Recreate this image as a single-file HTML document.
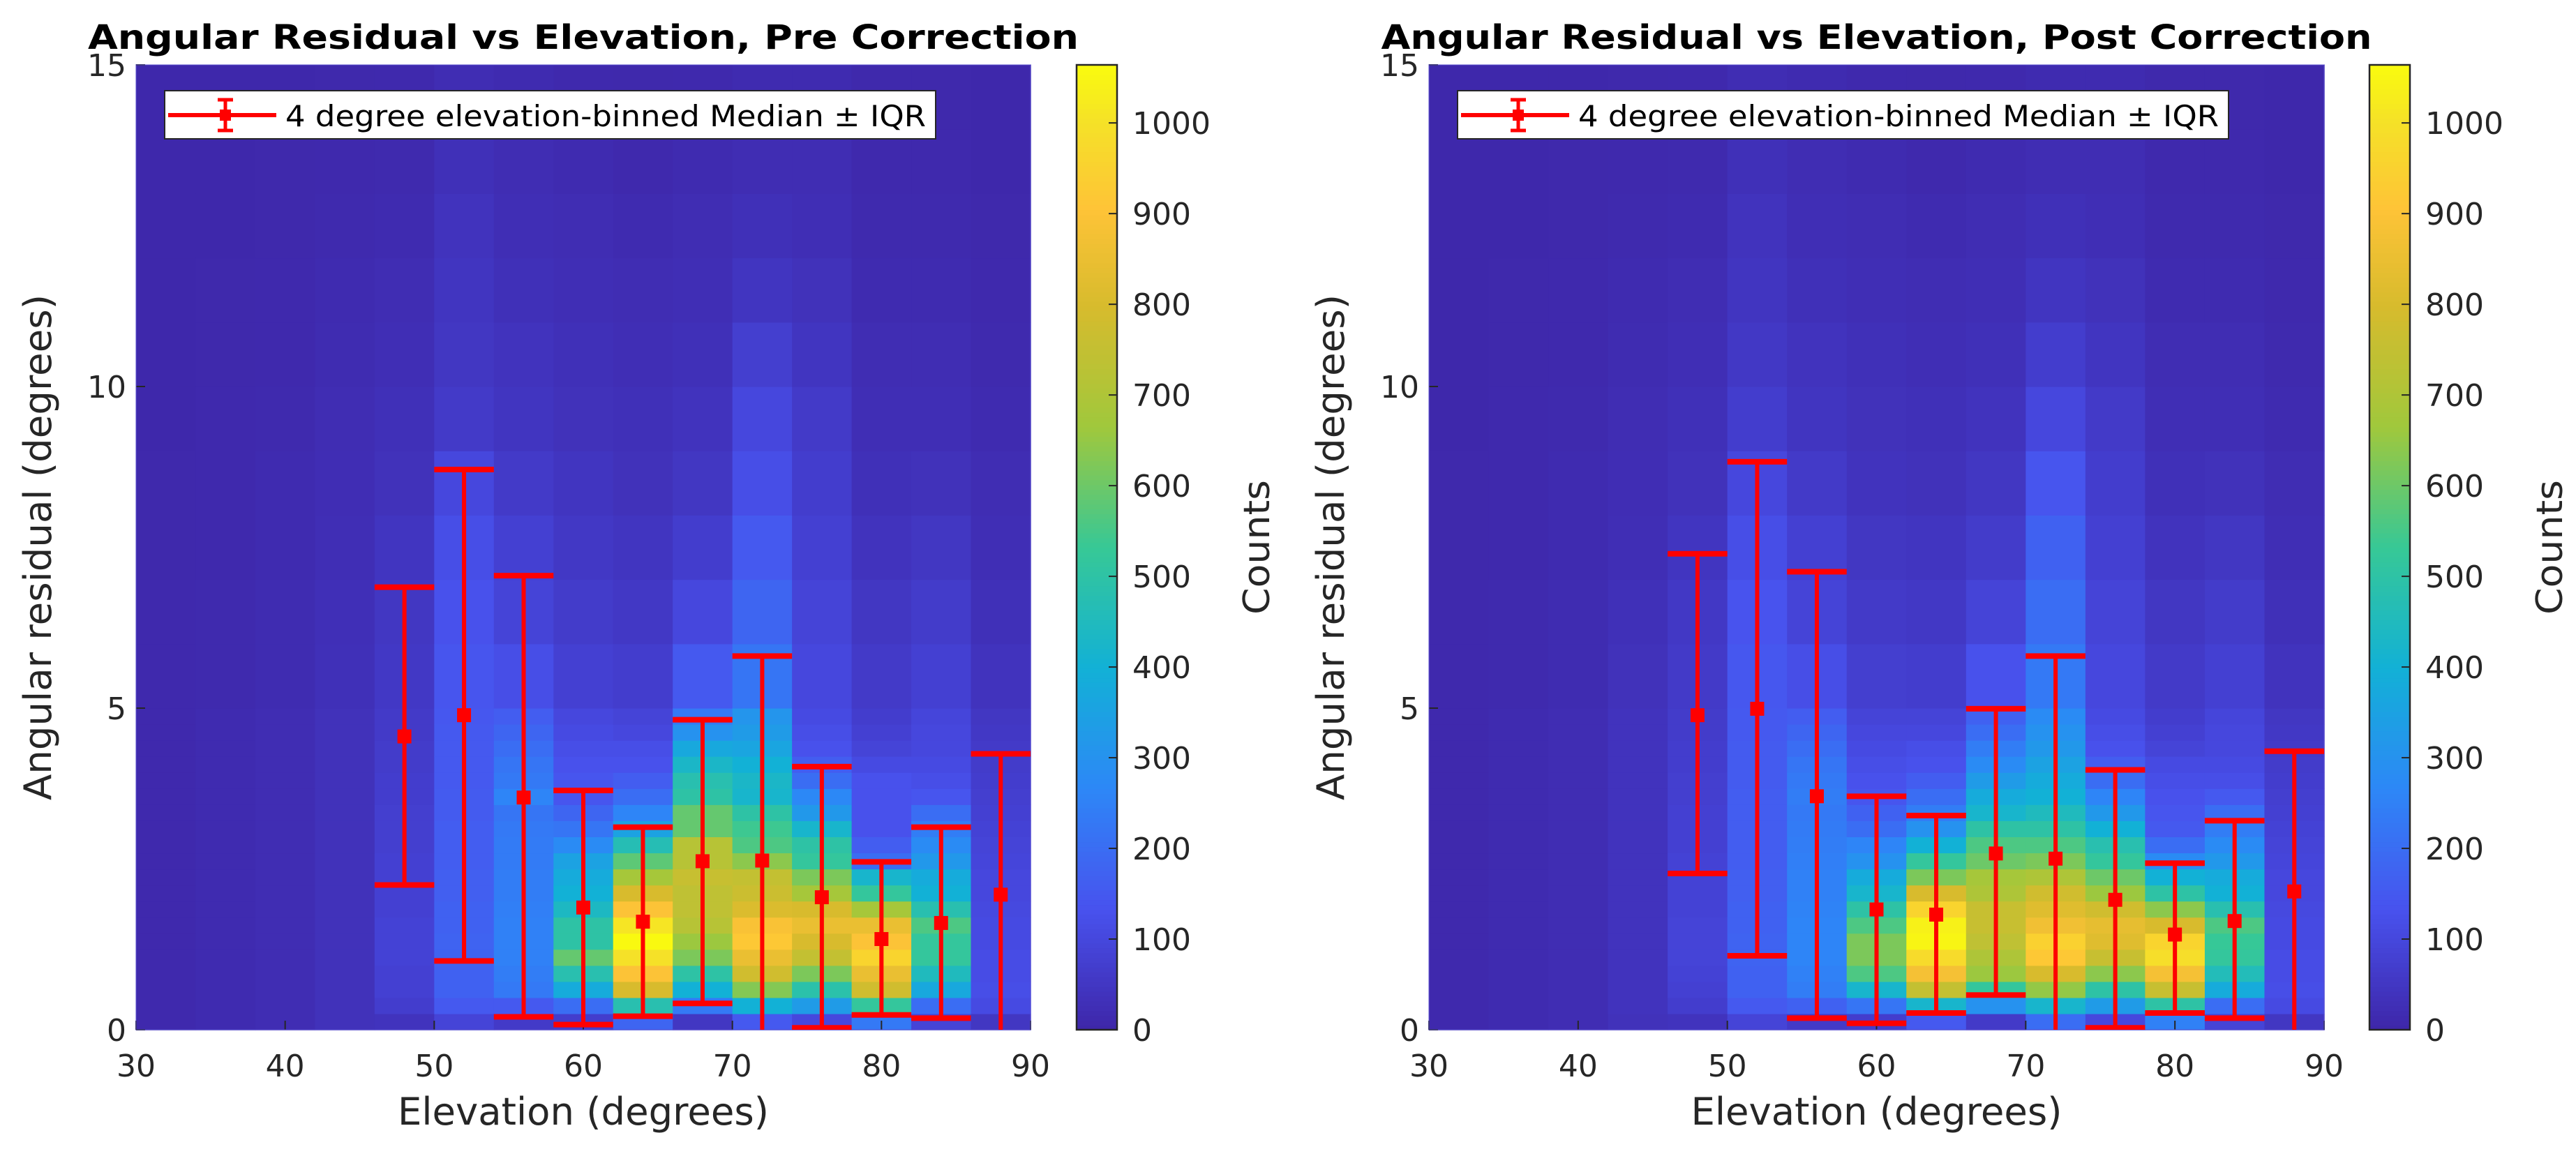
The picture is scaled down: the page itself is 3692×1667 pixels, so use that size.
<!DOCTYPE html>
<html><head><meta charset="utf-8"><style>
html,body{margin:0;padding:0;background:#fff;}
svg{display:block;font-family:"DejaVu Sans","Liberation Sans",sans-serif;}
</style></head><body>
<svg id="fig" width="3692" height="1667" viewBox="0 0 3692 1667" xmlns="http://www.w3.org/2000/svg"></svg>
<script>
// ---- data ----
const xEdges = [30,34,38,42,46,50,54,58,62,66,70,74,78,82,86,90];
const yEdges = [0,0.25,0.5,0.75,1,1.25,1.5,1.75,2,2.25,2.5,2.75,3,3.25,3.5,3.75,4,4.25,4.5,4.75,5,6,7,8,9,10,11,12,13,14,15];
const preCounts = [
[10,10,10,10,10,10,10,10,10,10,10,10,10,10,10,10,10,10,10,10,10,10,8,8,6,5,5,5,5,5],
[15,15,15,15,15,15,15,15,15,15,15,15,15,15,15,15,15,15,15,15,12,12,10,10,10,8,8,6,6,5],
[20,20,20,20,20,20,20,20,20,20,20,20,20,20,20,20,20,20,20,20,18,18,15,15,12,10,10,8,8,6],
[35,35,35,35,35,35,35,35,35,35,35,35,35,35,35,35,35,35,35,35,30,28,25,22,20,18,15,12,10,8],
[40,70,80,80,85,85,85,80,80,80,80,75,75,75,70,70,65,65,60,60,55,50,45,35,30,25,20,15,12,10],
[90,150,170,170,175,175,170,170,165,165,160,160,160,155,155,150,150,150,150,145,140,130,120,100,60,50,45,40,30,20],
[60,150,230,240,250,250,250,245,240,240,235,235,230,220,260,230,220,200,180,160,120,90,80,60,45,40,30,25,20,15],
[70,200,380,480,590,500,500,440,400,380,350,280,220,180,140,140,130,120,110,100,80,65,55,45,35,30,25,20,15,10],
[180,480,800,900,1000,1060,1010,900,800,680,580,470,350,260,200,160,130,120,100,90,70,55,45,35,30,25,20,15,10,8],
[50,230,400,500,620,660,720,740,740,760,720,720,590,590,500,480,430,370,300,230,150,100,70,50,40,30,25,20,15,10],
[150,400,630,780,850,920,890,810,770,750,640,560,540,500,420,430,400,360,330,310,220,180,150,120,100,75,45,30,20,15],
[100,330,490,620,750,800,850,800,680,620,520,500,420,320,270,200,160,130,120,110,100,90,80,70,60,45,35,25,20,15],
[230,520,780,850,960,900,850,680,520,420,200,160,130,130,130,130,110,90,80,70,60,50,40,30,25,20,15,12,10,8],
[90,200,370,450,520,520,560,480,400,380,320,280,240,200,140,120,110,100,100,95,80,65,50,35,25,20,15,12,10,8],
[50,110,120,115,115,110,110,105,100,100,95,90,85,80,75,70,65,60,55,50,40,30,25,20,15,12,10,8,6,5]
];
const postCounts = [
[10,10,10,10,10,10,10,10,10,10,10,10,10,10,10,10,10,10,10,10,10,10,8,8,6,5,5,5,5,5],
[15,15,15,15,15,15,15,15,15,15,15,15,15,15,15,15,15,15,15,15,12,12,10,10,10,8,8,6,6,5],
[20,20,20,20,20,20,20,20,20,20,20,20,20,20,20,20,20,20,20,20,18,18,15,15,12,10,10,8,8,6],
[35,40,40,40,40,40,40,40,40,40,40,40,40,40,40,40,40,40,40,40,35,30,25,22,20,18,15,12,10,8],
[40,70,80,85,90,90,90,85,85,85,85,80,80,80,75,75,70,70,65,65,60,55,45,35,30,25,20,15,12,10],
[90,150,170,170,175,175,170,170,165,165,160,160,160,160,160,155,155,155,150,150,145,135,120,100,70,55,45,40,30,20],
[60,170,240,250,260,260,260,255,250,250,245,240,235,230,240,230,220,200,180,160,120,90,80,60,45,40,30,25,20,15],
[70,220,420,560,620,620,560,500,420,380,300,260,200,170,140,130,120,110,100,90,75,60,50,40,35,30,25,20,15,10],
[150,420,750,880,980,1050,1040,960,800,620,520,400,300,240,200,160,130,120,100,90,70,55,45,35,30,25,20,15,10,8],
[60,300,520,660,700,740,760,760,700,680,600,560,500,420,380,330,280,240,200,170,130,90,65,50,40,30,25,20,15,10],
[200,420,650,800,920,950,870,820,780,700,620,560,500,450,400,380,350,320,300,280,230,200,170,140,100,70,45,30,20,15],
[100,330,500,640,760,820,840,780,660,600,520,480,400,320,260,200,160,130,120,110,100,90,80,70,60,45,35,25,20,15],
[250,500,760,880,990,960,800,640,500,400,280,200,150,140,130,120,110,90,80,70,60,50,40,30,25,20,15,12,10,8],
[90,200,380,460,520,530,560,480,400,380,320,280,240,200,150,120,110,100,100,95,80,65,50,35,25,20,15,12,10,8],
[50,110,120,115,115,110,110,105,100,100,95,90,85,80,75,70,65,60,55,50,40,30,25,20,15,12,10,8,6,5]
];
const binCenters = [48,52,56,60,64,68,72,76,80,84,88];
const preMedian = [4.56,4.89,3.61,1.90,1.68,2.62,2.63,2.06,1.41,1.66,2.10];
const preUpper  = [6.88,8.71,7.06,3.72,3.15,4.82,5.81,4.09,2.61,3.15,4.29];
const preLower  = [2.25,1.07,0.20,0.08,0.21,0.41,-0.05,0.03,0.23,0.18,-0.05];
const postMedian = [4.89,4.99,3.63,1.87,1.79,2.74,2.66,2.02,1.48,1.69,2.15];
const postUpper  = [7.40,8.83,7.12,3.63,3.33,4.99,5.81,4.04,2.59,3.25,4.33];
const postLower  = [2.43,1.15,0.18,0.10,0.26,0.54,-0.05,0.03,0.26,0.18,-0.05];
const xTicks = [30,40,50,60,70,80,90];
const yTicks = [0,5,10,15];
const cTicks = [0,100,200,300,400,500,600,700,800,900,1000];
const cMax = 1064;

// ---- helpers ----
const NS = "http://www.w3.org/2000/svg";
const svg = document.getElementById('fig');
function mk(tag, attrs, parent){const e=document.createElementNS(NS,tag);for(const k in attrs)e.setAttribute(k,attrs[k]);(parent||svg).appendChild(e);return e;}
const P=[[0,62,38,168],[0.125,72,82,238],[0.25,45,135,247],[0.375,18,177,214],[0.5,55,200,150],[0.625,160,200,60],[0.75,215,187,45],[0.85,254,195,55],[0.94,245,225,40],[1,249,251,14]];
function parula(v){let t=Math.max(0,Math.min(1,v/cMax));for(let i=1;i<P.length;i++){if(t<=P[i][0]){const a=P[i-1],b=P[i],f=(t-a[0])/(b[0]-a[0]);return `rgb(${Math.round(a[1]+f*(b[1]-a[1]))},${Math.round(a[2]+f*(b[2]-a[2]))},${Math.round(a[3]+f*(b[3]-a[3]))})`;}}return 'rgb(249,251,14)';}

function panel(o){
  const L=o.left,R=o.right,T=93,B=1476;
  const sx=v=>L+(v-30)/60*(R-L), sy=v=>B-v/15*(B-T);
  const g=mk('g',{});
  
  
  const cp=mk('clipPath',{id:'clip-'+o.name},g);
  mk('rect',{x:L,y:T,width:R-L,height:B-T},cp);
  const hm=mk('g',{},g);
  
  
  o.counts.forEach((col,i)=>{col.forEach((c,j)=>{
    const r=mk('rect',{x:sx(xEdges[i]),y:sy(yEdges[j+1]),width:sx(xEdges[i+1])-sx(xEdges[i])+0.6,height:sy(yEdges[j])-sy(yEdges[j+1])+0.6,fill:parula(c)},hm);
    
    
  });});
  xTicks.forEach(t=>{
    mk('line',{x1:sx(t),x2:sx(t),y1:B,y2:B-13,stroke:'#262626','stroke-width':2},g);
    const tx=mk('text',{x:sx(t),y:1543,'font-size':44,'text-anchor':'middle',fill:'#262626'},g);tx.textContent=t;
    
    
  });
  yTicks.forEach(t=>{
    mk('line',{x1:L,x2:L+13,y1:sy(t),y2:sy(t),stroke:'#262626','stroke-width':2},g);
    const tx=mk('text',{x:L-14,y:sy(t)+16,'font-size':44,'text-anchor':'end',fill:'#262626'},g);tx.textContent=t;
    
    
  });
  mk('rect',{x:L,y:T,width:R-L,height:B-T,fill:'none',stroke:'#5a4fcf','stroke-width':2,'stroke-opacity':0.5},g);
  const eb=mk('g',{stroke:'#ff0000','stroke-width':6,fill:'#ff0000','clip-path':`url(#clip-${o.name})`},g);
  
  
  const cw=(sx(4)-sx(0))/2;
  binCenters.forEach((c,i)=>{
    const x=sx(c),yu=sy(o.up[i]),yl=sy(o.lo[i]),ym=sy(o.med[i]);
    const bg=mk('g',{},eb);
    
    
    mk('line',{x1:x,x2:x,y1:yu,y2:yl},bg);
    mk('line',{x1:x-cw,x2:x+cw,y1:yu,y2:yu,'stroke-width':8},bg);
    mk('line',{x1:x-cw,x2:x+cw,y1:yl,y2:yl,'stroke-width':8},bg);
    mk('rect',{x:x-10,y:ym-10,width:20,height:20,stroke:'none'},bg);
  });
  const lg=mk('g',{},g);
  
  
  const lx=L+41;
  mk('rect',{x:lx,y:130,width:1105,height:69,fill:'#fff',stroke:'#262626','stroke-width':2},lg);
  mk('line',{x1:lx+5,x2:lx+160,y1:165,y2:165,stroke:'#ff0000','stroke-width':6},lg);
  mk('line',{x1:lx+87,x2:lx+87,y1:143,y2:187,stroke:'#ff0000','stroke-width':5},lg);
  mk('line',{x1:lx+76,x2:lx+98,y1:143,y2:143,stroke:'#ff0000','stroke-width':5},lg);
  mk('line',{x1:lx+76,x2:lx+98,y1:187,y2:187,stroke:'#ff0000','stroke-width':5},lg);
  mk('rect',{x:lx+79,y:157,width:16,height:16,fill:'#ff0000'},lg);
  const lt=mk('text',{x:lx+173,y:181,'font-size':42,fill:'#000',textLength:918,lengthAdjust:'spacingAndGlyphs'},lg);
  lt.textContent='4 degree elevation-binned Median \u00b1 IQR';
  
  
  const cb=mk('g',{},g);
  
  
  const cx=o.cbx,cwid=58,cy=v=>B-v/cMax*(B-T);
  for(let k=0;k<200;k++){const v0=k/200*cMax,v1=(k+1)/200*cMax;
    mk('rect',{x:cx,y:cy(v1),width:cwid,height:cy(v0)-cy(v1)+0.8,fill:parula((v0+v1)/2)},cb);}
  mk('rect',{x:cx,y:T,width:cwid,height:B-T,fill:'none',stroke:'#262626','stroke-width':2.5},cb);
  cTicks.forEach(t=>{
    mk('line',{x1:cx+cwid-12,x2:cx+cwid,y1:cy(t),y2:cy(t),stroke:'#262626','stroke-width':2},cb);
    const tx=mk('text',{x:cx+cwid+22,y:cy(t)+16,'font-size':44,fill:'#262626'},cb);tx.textContent=t;
    
    
  });
  const cl=mk('text',{x:0,y:0,'font-size':52,'text-anchor':'middle',fill:'#262626',textLength:193,lengthAdjust:'spacingAndGlyphs',transform:`translate(${cx+cwid+218},${(T+B)/2}) rotate(-90)`},cb);
  cl.textContent='Counts';
  
  
  const xl=mk('text',{x:(L+R)/2,y:1612,'font-size':54,'text-anchor':'middle',fill:'#262626',textLength:532,lengthAdjust:'spacingAndGlyphs'},g);
  xl.textContent='Elevation (degrees)';
  
  
  const yl=mk('text',{x:0,y:0,'font-size':54,'text-anchor':'middle',fill:'#262626',textLength:725,lengthAdjust:'spacingAndGlyphs',transform:`translate(${L-122},${(T+B)/2}) rotate(-90)`},g);
  yl.textContent='Angular residual (degrees)';
  
  
  const tt=mk('text',{x:(L+R)/2,y:70,'font-size':48,'font-weight':'bold','text-anchor':'middle',fill:'#000',textLength:1420,lengthAdjust:'spacingAndGlyphs'},g);
  tt.textContent=o.title;
  
  
}
panel({name:'pre',left:195,right:1477,cbx:1543,counts:preCounts,med:preMedian,up:preUpper,lo:preLower,title:'Angular Residual vs Elevation, Pre Correction'});
panel({name:'post',left:2048,right:3331,cbx:3396,counts:postCounts,med:postMedian,up:postUpper,lo:postLower,title:'Angular Residual vs Elevation, Post Correction'});
</script>
</body></html>
